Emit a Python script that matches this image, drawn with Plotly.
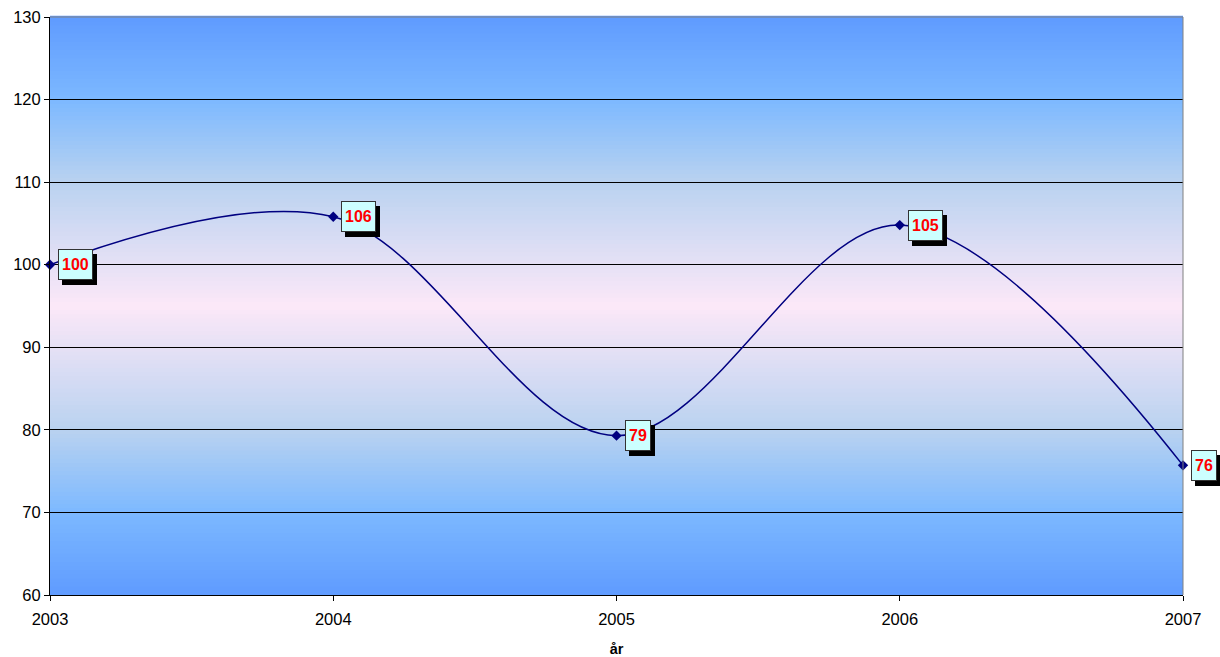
import plotly.graph_objects as go

years = [2003, 2004, 2005, 2006, 2007]
values = [100, 105.8, 79.3, 104.8, 75.7]
labels = ["100", "106", "79", "105", "76"]
y_ticks = [60, 70, 80, 90, 100, 110, 120, 130]

fig = go.Figure()
fig.add_trace(go.Scatter(
    x=years, y=values, mode="lines+markers",
    line=dict(color="#000080", width=1.5, shape="spline", smoothing=1.0),
    marker=dict(symbol="diamond", size=8, color="#000080"),
    hoverinfo="skip", showlegend=False, cliponaxis=False,
))

# gradient background (symmetric: blue edges, pink centre)
stops = [(0.0, (252, 232, 248)), (0.43, (185, 210, 240)), (0.71, (125, 185, 255)), (1.0, (95, 155, 255))]

def col(d):
    for (d0, c0), (d1, c1) in zip(stops[:-1], stops[1:]):
        if d <= d1:
            f = (d - d0) / (d1 - d0)
            return "rgb(%d,%d,%d)" % tuple(round(a + (b - a) * f) for a, b in zip(c0, c1))
    return "rgb(%d,%d,%d)" % stops[-1][1]

N = 140
shapes = []
for i in range(N):
    t0, t1 = i / N, (i + 1) / N
    d = abs((t0 + t1) / 2 - 0.5) * 2
    shapes.append(dict(type="rect", xref="paper", yref="paper", x0=0, x1=1, y0=t0, y1=t1 + 0.002,
                       fillcolor=col(d), line=dict(width=0), layer="below"))
shapes.append(dict(type="line", xref="paper", yref="paper", x0=0, x1=1, y0=1, y1=1,
                   line=dict(color="#808080", width=1), layer="above"))
shapes.append(dict(type="line", xref="paper", yref="paper", x0=1, x1=1, y0=0, y1=1,
                   line=dict(color="#808080", width=1), layer="above"))

annotations = []
for x, y, lab in zip(years, values, labels):
    annotations.append(dict(x=x, y=y, xref="x", yref="y", text="<b>%s</b>" % lab, showarrow=False,
                            xanchor="left", yanchor="middle", xshift=12, yshift=-5,
                            font=dict(family="Arial", size=16, color="black"),
                            bgcolor="black", bordercolor="black", borderwidth=1, borderpad=3, height=23))
    annotations.append(dict(x=x, y=y, xref="x", yref="y", text="<b>%s</b>" % lab, showarrow=False,
                            xanchor="left", yanchor="middle", xshift=8,
                            font=dict(family="Arial", size=16, color="#FF0000"),
                            bgcolor="#CCFFFF", bordercolor="#333333", borderwidth=1, borderpad=3, height=23))

fig.update_layout(
    width=1220, height=657,
    margin=dict(l=50, r=37, t=17, b=62, autoexpand=False),
    paper_bgcolor="white", plot_bgcolor="#9fc4ff",
    font=dict(family="Arial", size=16.5, color="black"),
    shapes=shapes, annotations=annotations,
    xaxis=dict(range=[2003, 2007], tickvals=years, ticktext=[str(y) for y in years],
               showgrid=False, zeroline=False, showline=True, linecolor="black", linewidth=1,
               ticks="outside", ticklen=5, tickcolor="black", ticklabelstandoff=4, automargin=False,
               title=dict(text="<b>år</b>", font=dict(size=14.5), standoff=18)),
    yaxis=dict(range=[60, 130], tickvals=y_ticks, showgrid=True, gridcolor="black", gridwidth=1,
               zeroline=False, showline=True, linecolor="black", linewidth=1, automargin=False,
               ticks="outside", ticklen=5, tickcolor="black"),
)

fig.write_html("out.html", config={"displayModeBar": False},
               post_script="document.body.style.margin='0';document.body.style.overflow='hidden';")
